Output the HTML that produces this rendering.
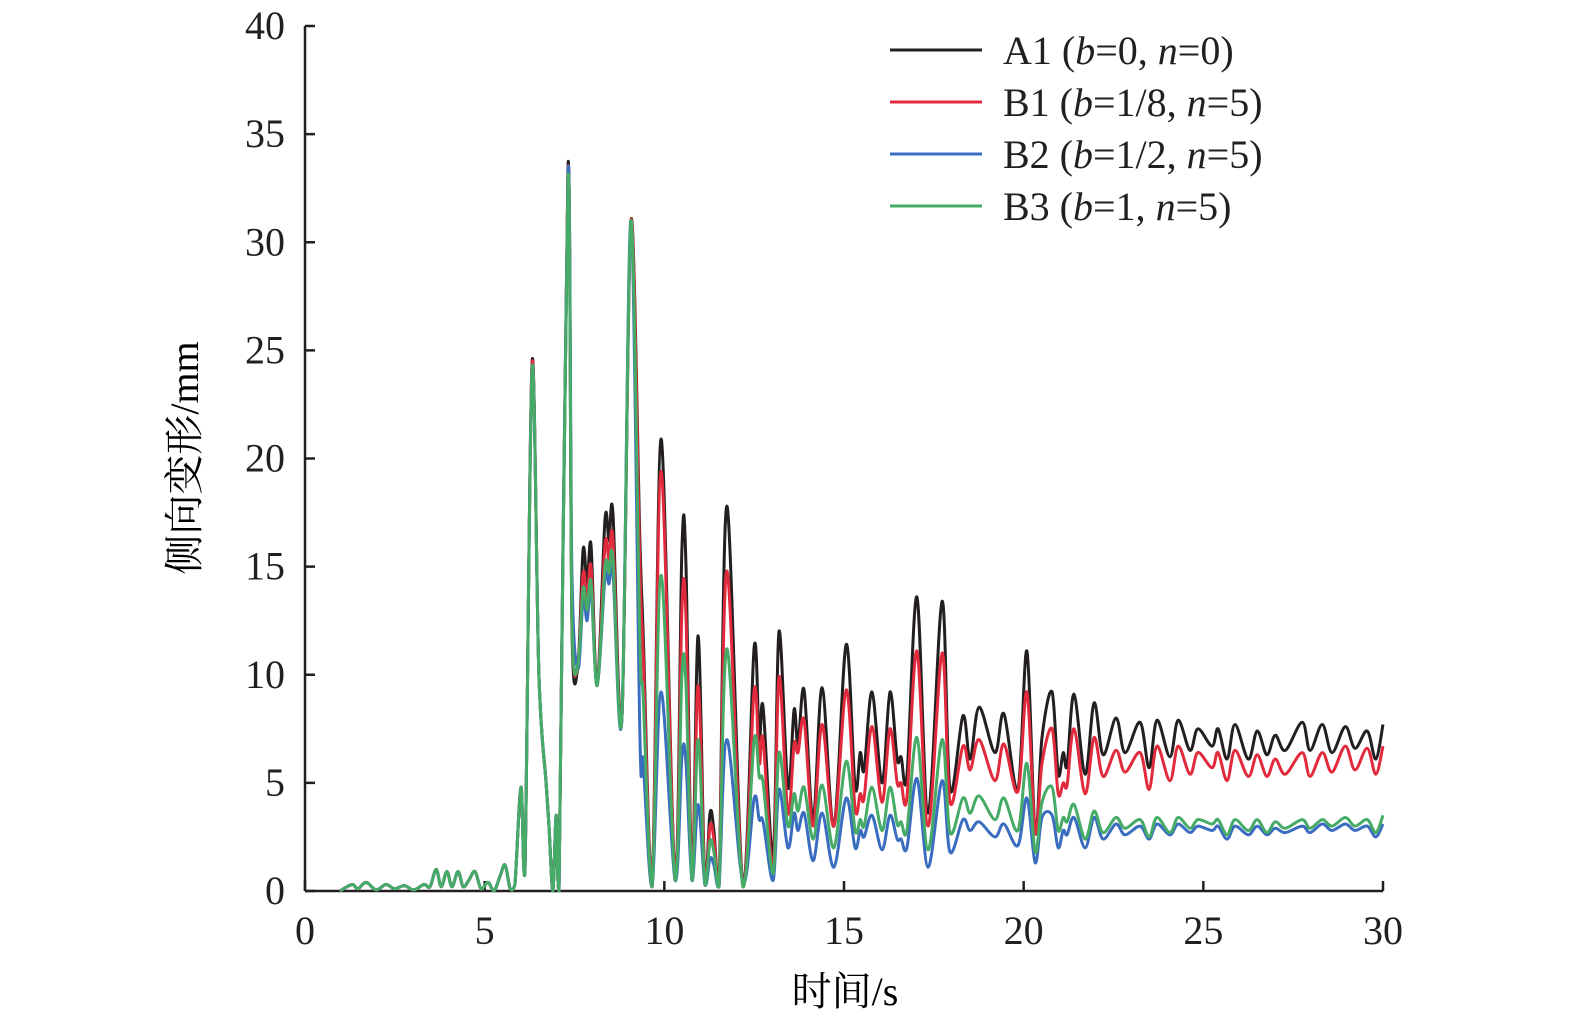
<!DOCTYPE html>
<html><head><meta charset="utf-8">
<style>
html,body{margin:0;padding:0;background:#fff;}
svg{display:block;font-family:"Liberation Serif","Noto Serif CJK SC",serif;}
</style></head>
<body>
<svg id="chart" width="1575" height="1026" viewBox="0 0 1575 1026" xmlns="http://www.w3.org/2000/svg">
<g id="axes"></g>
<g id="series"></g>
<text x="845" y="1005" font-size="40" text-anchor="middle">时间/s</text>
<text transform="translate(198,458) rotate(-90)" font-size="40" text-anchor="middle">侧向变形/mm</text>
<g id="legend"></g>
</svg>
<script>
const times=[0.97,1.31,1.47,1.70,1.98,2.25,2.50,2.76,3.03,3.31,3.48,3.65,3.79,3.95,4.09,4.26,4.40,4.56,4.73,4.90,5.09,5.26,5.43,5.57,5.71,5.84,6.01,6.12,6.32,6.51,6.71,6.79,6.90,6.99,7.07,7.32,7.43,7.60,7.74,7.85,7.96,8.13,8.35,8.46,8.57,8.82,9.07,9.32,9.41,9.66,9.91,10.30,10.49,10.60,10.77,10.94,11.13,11.27,11.38,11.52,11.74,12.19,12.50,12.64,12.75,13.03,13.19,13.44,13.61,13.72,13.89,14.14,14.39,14.72,15.06,15.31,15.45,15.56,15.78,16.06,16.28,16.48,16.59,16.75,17.03,17.34,17.73,17.95,18.31,18.51,18.76,19.20,19.45,19.84,20.09,20.32,20.51,20.79,20.96,21.10,21.21,21.40,21.71,21.96,22.21,22.57,22.82,23.24,23.49,23.71,24.07,24.30,24.63,24.85,25.24,25.41,25.66,25.88,26.25,26.50,26.77,27.00,27.28,27.75,27.97,28.31,28.58,28.95,29.22,29.56,29.80,30.0];
const early=[0,0.3,0.1,0.4,0.05,0.3,0.1,0.25,0.05,0.3,0.2,1.0,0.2,0.9,0.2,0.9,0.2,0.5,0.9,0.1,0.4,0,0.7,1.2,0.1,0.3,4.8,0.8];
const mid=[10,5,3,0,3.5,0];
const seriesA1=early.concat([24.5],mid,[33.6,12,10.5,15.8,14.2,16,9.5,17.2,16.2,17.5,8.0,31.0,16.2,12,0.2,20.9,0.5,15.8,15.2,0.5,11.8,0.3,3.6,2.8,0.2,17.8,0.2,11.3,7,8.5,1.6,12.0,4.8,8.4,6.8,9.3,3.3,9.4,3.0,11.4,4.8,6.4,5.6,9.2,5.0,9.2,6.1,6.2,5.3,13.6,3.6,13.4,4.7,8.1,6.1,8.5,6.4,8.2,4.7,11.1,2.7,7.1,9.2,5.4,6.4,5.8,9.1,5.4,8.7,6.3,8.0,6.4,7.8,5.7,7.9,6.2,7.9,6.5,7.5,6.7,7.5,6.1,7.7,6.1,7.4,6.3,7.2,6.5,7.8,6.5,7.7,6.4,7.6,6.6,7.4,6.1,7.7]);
const seriesB1=early.concat([24.4],mid,[33.4,12.5,10.5,14.7,13.5,15,9.5,16,15.3,16.3,8.0,31.0,15,11,0.2,19.4,0.5,13.0,12.8,0.5,9.5,0.3,3.0,2.4,0.2,14.8,0.2,9.3,5.9,7.0,1.0,9.9,3.6,6.8,6.4,7.9,3.0,7.7,3.0,9.3,3.8,4.5,4.3,7.6,4.1,7.5,5.0,5.0,4.3,11.1,3.0,11.0,4.1,6.7,5.6,7.0,5.1,6.8,4.6,9.2,2.7,5.9,7.5,4.5,5.0,4.9,7.5,4.5,7.1,5.3,6.5,5.5,6.4,4.7,6.7,5.1,6.7,5.4,6.4,5.7,6.4,5.1,6.5,5.3,6.3,5.3,6.1,5.4,6.4,5.3,6.4,5.5,6.7,5.6,6.6,5.4,6.7]);
const seriesB2=early.concat([24.2],mid,[33.3,14.5,10.3,13.5,12.5,14,9.5,14.5,14.2,14.8,8.0,31.0,7.2,6,0.2,9.2,0.5,6.2,6.0,0.5,4.0,0.3,1.5,1.2,0.2,7.0,0.4,4.3,3.3,3.2,0.5,4.7,2.0,3.6,2.8,3.6,1.4,3.6,1.1,4.3,2.0,2.8,2.5,3.5,1.9,3.5,2.4,2.4,2.0,5.2,1.1,5.1,1.8,3.3,2.8,3.2,2.5,3.1,2.1,4.3,1.3,3.4,3.5,2.0,2.8,2.6,3.4,2.0,3.4,2.4,3.1,2.6,3.0,2.4,3.1,2.6,3.1,2.7,3.0,2.8,3.0,2.4,3.0,2.6,3.0,2.6,2.9,2.7,3.0,2.7,3.1,2.8,3.1,2.8,3.0,2.5,3.1]);
const seriesB3=early.concat([24.2],mid,[33.0,12.5,10.5,14,13,14.3,9.5,15,14.7,15.4,8.0,31.0,11.5,9,0.2,14.6,0.5,10.0,9.6,0.5,7.0,0.3,2.3,1.8,0.2,11.2,0.2,7.0,5.3,5.0,0.8,6.4,3.0,4.5,3.7,4.8,2.4,4.9,2.0,6.0,2.8,3.3,3.0,4.8,2.8,4.8,3.1,3.2,2.8,7.1,1.9,7.0,2.7,4.3,3.6,4.4,3.3,4.3,2.8,5.9,1.8,4.1,4.8,2.8,3.4,3.2,4.0,2.4,3.7,2.7,3.4,2.9,3.3,2.5,3.4,2.7,3.4,2.9,3.3,3.1,3.3,2.6,3.3,2.8,3.3,2.7,3.2,2.9,3.3,2.9,3.3,3.0,3.4,3.0,3.3,2.7,3.5]);
const xTicks=[0,5,10,15,20,25,30];
const yTicks=[0,5,10,15,20,25,30,35,40];
const legendLabels=[["A1 (","b","=0, ","n","=0)"],["B1 (","b","=1/8, ","n","=5)"],["B2 (","b","=1/2, ","n","=5)"],["B3 (","b","=1, ","n","=5)"]];

const X0=305,X1=1383,Y0=891,Y1=26;
const xs=t=>X0+(t-0)/(30-0)*(X1-X0);
const ys=v=>Y0-(v-0)/(40-0)*(Y0-Y1);
const NS="http://www.w3.org/2000/svg";
function mk(tag,attrs,parent){const e=document.createElementNS(NS,tag);for(const k in attrs)e.setAttribute(k,attrs[k]);parent.appendChild(e);return e;}
const axes=document.getElementById('axes');
let a=mk('line',{x1:X0,y1:Y0,x2:X1,y2:Y0,stroke:'#231f20','stroke-width':2.5},axes);


a=mk('line',{x1:X0,y1:Y0,x2:X0,y2:Y1,stroke:'#231f20','stroke-width':2.5},axes);


xTicks.forEach(v=>{
  const tk=mk('line',{x1:xs(v),y1:Y0,x2:xs(v),y2:Y0-10,stroke:'#231f20','stroke-width':2.5},axes);
  
  
  const tx=mk('text',{x:xs(v),y:Y0+53,'font-size':40,'text-anchor':'middle',fill:'#231f20'},axes);
  tx.textContent=v;
  
  
});
yTicks.forEach(v=>{
  const tk=mk('line',{x1:X0,y1:ys(v),x2:X0+10,y2:ys(v),stroke:'#231f20','stroke-width':2.5},axes);
  
  
  const tx=mk('text',{x:X0-20,y:ys(v)+13,'font-size':40,'text-anchor':'end',fill:'#231f20'},axes);
  tx.textContent=v;
  
  
});
function pathFor(vals){
  const p=times.map((t,i)=>[xs(t),ys(vals[i])]);
  let d='M'+p[0][0].toFixed(1)+','+p[0][1].toFixed(1);
  for(let i=0;i<p.length-1;i++){
    const p0=p[Math.max(0,i-1)],p1=p[i],p2=p[i+1],p3=p[Math.min(p.length-1,i+2)];
    const c1=[p1[0]+(p2[0]-p0[0])/6,p1[1]+(p2[1]-p0[1])/6];
    const c2=[p2[0]-(p3[0]-p1[0])/6,p2[1]-(p3[1]-p1[1])/6];
    c1[1]=Math.min(c1[1],Y0);c2[1]=Math.min(c2[1],Y0);
    d+=' C'+c1[0].toFixed(1)+','+c1[1].toFixed(1)+' '+c2[0].toFixed(1)+','+c2[1].toFixed(1)+' '+p2[0].toFixed(1)+','+p2[1].toFixed(1);
  }
  return d;
}
const sg=document.getElementById('series');
const colors=['#231f20','#e12a3c','#3a6cc0','#45ab67'];
const names=['series-a1','series-b1','series-b2','series-b3'];
[seriesA1,seriesB1,seriesB2,seriesB3].forEach((s,i)=>{
  const pth=mk('path',{d:pathFor(s),fill:'none',stroke:colors[i],'stroke-width':3,'stroke-linejoin':'round'},sg);
  
  
});
const lg=document.getElementById('legend');
legendLabels.forEach((parts,i)=>{
  const y=50+i*52;
  const ln=mk('line',{x1:890,y1:y,x2:982,y2:y,stroke:colors[i],'stroke-width':3},lg);
  
  
  const tx=mk('text',{x:1003,y:y+14,'font-size':40,fill:'#231f20'},lg);
  
  
  parts.forEach((p,j)=>{const ts=mk('tspan',j%2===1?{'font-style':'italic'}:{},tx);ts.textContent=p;});
});
</script>
</body></html>
